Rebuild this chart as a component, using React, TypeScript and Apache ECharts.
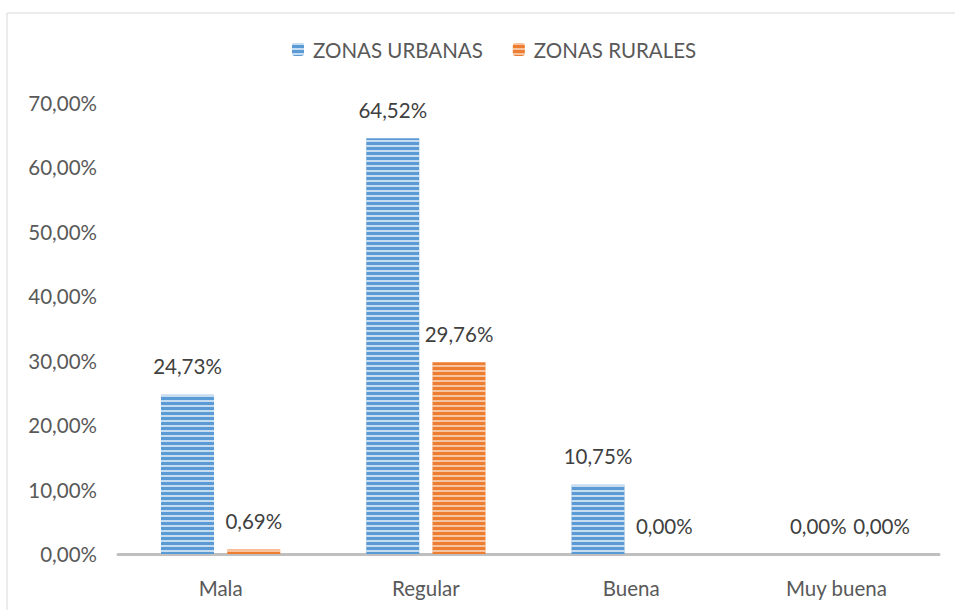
import React, { useEffect, useRef } from "react";
import * as echarts from "echarts";

const categories = ["Mala", "Regular", "Buena", "Muy buena"];
const urbanas = [24.73, 64.52, 10.75, 0.0];
const rurales = [0.69, 29.76, 0.0, 0.0];
const seriesNames = ["ZONAS URBANAS", "ZONAS RURALES"];

const FONT = "Lato";
const FS = 20.5;

const fmt = (v: number) => v.toFixed(2).replace(".", ",") + "%";

const stripe = (c: string) => ({
  symbol: "rect",
  symbolSize: 1,
  dashArrayX: [[8, 0]],
  dashArrayY: [2, 3],
  rotation: 0,
  color: c,
});

export default function App() {
  const ref = useRef<HTMLDivElement>(null);
  useEffect(() => {
    if (!ref.current) return;
    const chart = echarts.init(ref.current, undefined, { renderer: "svg" });
    const label = {
      show: true,
      position: "top",
      distance: 18,
      color: "#404040",
      fontFamily: FONT,
      fontSize: FS,
      formatter: (p: any) => fmt(p.value),
    };
    chart.setOption({
      animation: false,
      backgroundColor: "#ffffff",
      aria: { enabled: true, decal: { show: true } },
      graphic: [
        {
          type: "rect",
          shape: { x: 7, y: 13, width: 1000, height: 700 },
          style: { fill: "none", stroke: "#d9d9d9", lineWidth: 1 },
          silent: true,
        },
      ],
      legend: {
        top: 34,
        left: 287,
        itemWidth: 12,
        itemHeight: 13,
        itemGap: 30,
        textStyle: {
          color: "#595959",
          fontFamily: FONT,
          fontSize: FS,
          padding: [0, 0, 0, 4],
        },
        data: seriesNames,
      },
      grid: { left: 118, right: 16, top: 103, bottom: 56 },
      xAxis: {
        type: "category",
        data: categories,
        axisLine: { lineStyle: { color: "#bfbfbf", width: 3 } },
        axisTick: { show: false },
        axisLabel: {
          color: "#595959",
          fontFamily: FONT,
          fontSize: FS,
          margin: 23,
        },
      },
      yAxis: {
        type: "value",
        min: 0,
        max: 70,
        interval: 10,
        axisLine: { show: false },
        axisTick: { show: false },
        splitLine: { show: false },
        axisLabel: {
          color: "#595959",
          fontFamily: FONT,
          fontSize: FS,
          margin: 21,
          formatter: (v: number) => fmt(v),
        },
      },
      series: [
        {
          name: seriesNames[0],
          type: "bar",
          data: urbanas.map((v, i) =>
            i === 3 ? { value: v, label: { offset: [15, 0] } } : v
          ),
          barWidth: 53,
          barGap: "25%",
          itemStyle: {
            color: "#5b9bd5",
            decal: stripe("rgba(255,255,255,0.65)"),
          },
          label,
        },
        {
          name: seriesNames[1],
          type: "bar",
          data: rurales.map((v, i) =>
            i === 3 ? { value: v, label: { offset: [12, 0] } } : v
          ),
          barWidth: 53,
          barGap: "25%",
          itemStyle: {
            color: "#ed7d31",
            decal: stripe("rgba(255,255,255,0.55)"),
          },
          label,
        },
      ],
    });
    return () => chart.dispose();
  }, []);
  return (
    <div
      ref={ref}
      style={{ position: "fixed", left: 0, top: 0, width: 955, height: 610 }}
    />
  );
}
